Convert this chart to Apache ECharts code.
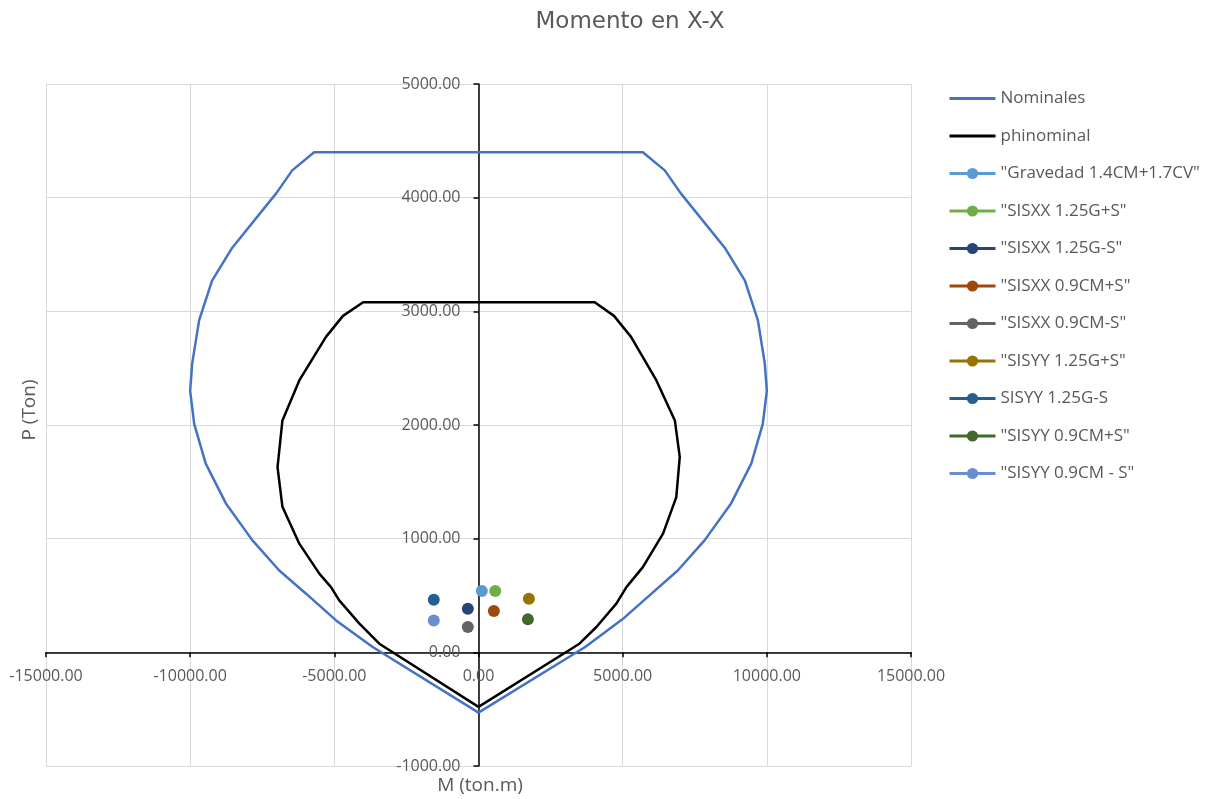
<!DOCTYPE html>
<html>
<head>
<meta charset="utf-8">
<title>Momento en X-X</title>
<script src="https://cdn.jsdelivr.net/npm/echarts@6/dist/echarts.min.js"></script>
<style>
  html, body { margin: 0; padding: 0; background: #fff; }
  #chart { width: 1222px; height: 799px; }
</style>
</head>
<body>
<div id="chart"></div>
<script>
// Interaction diagram: nominal curve (M, P)
const nomM = [0, 3700, 4990, 6000, 6910, 7840, 8760, 9460, 9860, 10000, 9930, 9690, 9240, 8540, 7010, 6460, 5700,
              -5700, -6460, -7010, -8540, -9240, -9690, -9930, -10000, -9860, -9460, -8760, -7840, -6910, -5980, -4940, -3670, 0];
const nomP = [-530, 47, 290, 516, 720, 985, 1310, 1660, 2010, 2300, 2540, 2920, 3270, 3560, 4040, 4240, 4400,
              4400, 4240, 4040, 3560, 3270, 2920, 2540, 2300, 2010, 1660, 1310, 985, 720, 516, 281, 47, -530];

// Reduced (phi) curve (M, P)
const phiM = [0, 3500, 4090, 4780, 5130, 5700, 6400, 6860, 6980, 6810, 6170, 5290, 4700, 4030,
              -4000, -4700, -5290, -6215, -6800, -6970, -6800, -6215, -5520, -5115, -4830, -4130, -3440, 0];
const phiP = [-480, 76, 223, 428, 574, 750, 1044, 1366, 1720, 2040, 2392, 2775, 2960, 3080,
              3080, 2960, 2775, 2392, 2040, 1630, 1280, 956, 692, 574, 457, 252, 76, -480];

// Load combinations
const comboNames = ['"Gravedad 1.4CM+1.7CV"', '"SISXX 1.25G+S"', '"SISXX 1.25G-S"', '"SISXX 0.9CM+S"',
                    '"SISXX 0.9CM-S"', '"SISYY 1.25G+S"', 'SISYY 1.25G-S', '"SISYY 0.9CM+S"', '"SISYY 0.9CM - S"'];
const comboM = [115, 580, -370, 533, -370, 1748, -1551, 1713, -1551];
const comboP = [539, 539, 384, 363, 223, 472, 463, 290, 281];
const comboColors = ['#5B9BD5', '#70AD47', '#264478', '#9E480E', '#636363', '#997300', '#255E91', '#43682B', '#698ED0'];

// Axis tick settings
const xTicks = { min: -15000, max: 15000, step: 5000 };
const yTicks = { min: -1000, max: 5000, step: 1000 };

const FONT = '"Open Sans", sans-serif';
const TEXT = '#595959';

// Plot area (px)
const W = 1222, H = 799;
const G = { left: 46, right: 311, top: 84, bottom: 33 };
const gridW = W - G.left - G.right;
const gridH = H - G.top - G.bottom;
// Axes cross at the origin: shift each axis from the grid edge to the zero of the other axis
const xAxisShift = -(0 - yTicks.min) / (yTicks.max - yTicks.min) * gridH;
const yAxisShift = -(0 - xTicks.min) / (xTicks.max - xTicks.min) * gridW;

const pairs = (a, b) => a.map((v, i) => [v, b[i]]);

const series = [
  {
    name: 'Nominales', type: 'line', data: pairs(nomM, nomP),
    symbol: 'none', lineStyle: { color: '#4472C4', width: 2.5 }, itemStyle: { color: '#4472C4' },
    z: 2, animation: false
  },
  {
    name: 'phinominal', type: 'line', data: pairs(phiM, phiP),
    symbol: 'none', lineStyle: { color: '#000000', width: 2.5 }, itemStyle: { color: '#000000' },
    z: 3, animation: false
  }
];
comboNames.forEach((n, i) => {
  series.push({
    name: n, type: 'line', data: [[comboM[i], comboP[i]]],
    symbol: 'circle', symbolSize: 12, showSymbol: true,
    itemStyle: { color: comboColors[i] }, lineStyle: { color: comboColors[i], width: 2.5 },
    z: 5, animation: false
  });
});

const chart = echarts.init(document.getElementById('chart'));
chart.setOption({
  backgroundColor: '#ffffff',
  animation: false,
  title: {
    text: 'Momento en X-X', left: 625, top: 6, textAlign: 'center',
    textStyle: { fontFamily: '"DejaVu Sans", sans-serif', fontSize: 23, fontWeight: 'normal', color: TEXT }
  },
  grid: { left: G.left, right: G.right, top: G.top, bottom: G.bottom, outerBoundsMode: 'none', containLabel: false },
  legend: {
    orient: 'vertical', left: 943, top: 85,
    itemWidth: 46, itemHeight: 14, itemGap: 20.5,
    lineStyle: { width: 3 },
    textStyle: { fontFamily: FONT, fontSize: 17, color: TEXT, lineHeight: 16 },
    data: [
      { name: 'Nominales', itemStyle: { opacity: 0 } },
      { name: 'phinominal', itemStyle: { opacity: 0 } }
    ].concat(comboNames.map(n => ({ name: n })))
  },
  xAxis: {
    type: 'value', min: xTicks.min, max: xTicks.max, interval: xTicks.step,
    position: 'bottom', offset: xAxisShift,
    axisLine: { onZero: false, lineStyle: { color: '#000', width: 1.5 } },
    axisTick: { show: true, length: 5, lineStyle: { color: '#000', width: 1.5 } },
    axisLabel: { fontFamily: FONT, fontSize: 16, color: TEXT, margin: 16, formatter: v => v.toFixed(2) },
    splitLine: { show: true, lineStyle: { color: '#D9D9D9', width: 1 } }
  },
  yAxis: {
    type: 'value', min: yTicks.min, max: yTicks.max, interval: yTicks.step,
    position: 'left', offset: yAxisShift,
    axisLine: { onZero: false, lineStyle: { color: '#000', width: 1.5 } },
    axisTick: { show: true, length: 5, lineStyle: { color: '#000', width: 1.5 } },
    axisLabel: { fontFamily: FONT, fontSize: 16, color: TEXT, margin: 18, formatter: v => v.toFixed(2) },
    splitLine: { show: true, lineStyle: { color: '#D9D9D9', width: 1 } }
  },
  graphic: [
    {
      type: 'text', x: 30, y: 410, rotation: Math.PI / 2,
      style: { text: 'P (Ton)', fontFamily: FONT, fontSize: 19, fill: TEXT, align: 'center', verticalAlign: 'middle' }
    },
    {
      type: 'text', x: 480, y: 786,
      style: { text: 'M (ton.m)', fontFamily: FONT, fontSize: 19, fill: TEXT, align: 'center', verticalAlign: 'middle' }
    }
  ],
  series: series
});
</script>
</body>
</html>
